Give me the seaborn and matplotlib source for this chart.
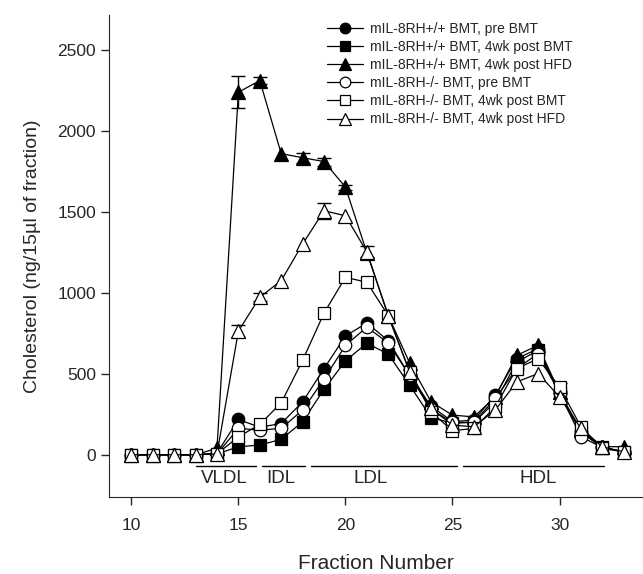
#!/usr/bin/env python3
"""Cholesterol profile of lipoprotein fractions (FPLC) - recreated with seaborn"""

import numpy as np
import pandas as pd
import matplotlib
matplotlib.use('Agg')
import matplotlib.pyplot as plt
import seaborn as sns

# Data
fractions = list(range(10, 34))

pos_pre = [0, 0, 0, 0, 10, 218, 170, 193, 327, 533, 734, 815, 705, 490,
           300, 205, 214, 368, 594, 656, 380, 140, 45, 18]
pos_4wk_bmt = [0, 0, 0, 0, 5, 49, 60, 95, 204, 405, 580, 690, 622, 430,
               230, 195, 200, 327, 573, 645, 380, 140, 45, 18]
pos_4wk_hfd = [0, 0, 0, 0, 40, 2242, 2314, 1862, 1837, 1813, 1655, 1250, 860, 567,
               327, 245, 234, 358, 615, 676, 385, 150, 50, 49]
ko_pre = [0, 0, 0, 0, 5, 163, 152, 163, 276, 467, 676, 789, 691, 490,
          280, 200, 200, 348, 533, 625, 380, 111, 45, 18]
ko_4wk_bmt = [0, 0, 0, 0, 5, 111, 187, 321, 584, 876, 1097, 1067, 860, 512,
              265, 148, 163, 296, 533, 594, 419, 173, 39, 18]
ko_4wk_hfd = [0, 0, 0, 0, 5, 765, 974, 1077, 1303, 1509, 1478, 1255, 861, 512,
              286, 183, 173, 276, 450, 502, 358, 163, 49, 18]

# error bars (only where visible in the figure)
err_pos_hfd = {15: 100, 16: 20, 18: 30, 19: 25, 20: 15}
err_ko_hfd = {15: 35, 16: 25, 19: 50, 21: 35}
err_ko_bmt = {30: 25}

labels = [
    'mIL-8RH+/+ BMT, pre BMT',
    'mIL-8RH+/+ BMT, 4wk post BMT',
    'mIL-8RH+/+ BMT, 4wk post HFD',
    'mIL-8RH-/- BMT, pre BMT',
    'mIL-8RH-/- BMT, 4wk post BMT',
    'mIL-8RH-/- BMT, 4wk post HFD',
]

regions = ['VLDL', 'IDL', 'LDL', 'HDL']
region_start = [13.0, 16.1, 18.4, 25.5]
region_end = [15.8, 18.1, 25.2, 32.1]
region_center = [14.35, 17.0, 21.2, 29.0]

sns.set_style('ticks')
plt.rcParams['font.family'] = ['Liberation Sans', 'DejaVu Sans']

fig = plt.figure(figsize=(6.43, 5.74), dpi=100)
ax = fig.add_axes([0.17, 0.134, 0.83, 0.84])

series = [pos_pre, pos_4wk_bmt, pos_4wk_hfd, ko_pre, ko_4wk_bmt, ko_4wk_hfd]
markers = ['o', 's', '^', 'o', 's', '^']
fills = ['black', 'black', 'black', 'white', 'white', 'white']
sizes = [9, 8.5, 9.5, 9, 8.5, 9.5]

for vals, mk, fc, ms, lab in zip(series, markers, fills, sizes, labels):
    df = pd.DataFrame({'fraction': fractions, 'chol': vals})
    sns.lineplot(data=df, x='fraction', y='chol', ax=ax, color='black',
                 linewidth=0.9, marker=mk, markersize=ms, markerfacecolor=fc,
                 markeredgecolor='black', markeredgewidth=0.9, label=lab)

# error bars
for errs, vals in [(err_pos_hfd, pos_4wk_hfd), (err_ko_hfd, ko_4wk_hfd),
                   (err_ko_bmt, ko_4wk_bmt)]:
    xs = list(errs.keys())
    ys = [vals[fractions.index(x)] for x in xs]
    ax.errorbar(xs, ys, yerr=list(errs.values()), fmt='none', ecolor='black',
                elinewidth=1.0, capsize=5, capthick=1.0, zorder=1)

# lipoprotein class bars
for name, x0, x1, xc in zip(regions, region_start, region_end, region_center):
    ax.plot([x0, x1], [-70, -70], color='black', linewidth=1.0)
    ax.text(xc, -148, name, ha='center', va='center', fontsize=13.5)

ax.set_xlim(8.97, 33.9)
ax.set_ylim(-262, 2720)
ax.set_xticks([10, 15, 20, 25, 30])
ax.set_yticks([0, 500, 1000, 1500, 2000, 2500])
ax.tick_params(axis='both', labelsize=12.5, direction='out', length=6, width=1)
ax.tick_params(axis='x', pad=9)
ax.set_xlabel('Fraction Number', fontsize=15, labelpad=15)
ax.set_ylabel('Cholesterol (ng/15\u00b5l of fraction)', fontsize=14, labelpad=12)
sns.despine(ax=ax)

leg = ax.legend(loc='upper left', bbox_to_anchor=(0.385, 1.012), frameon=False,
                fontsize=10, handlelength=2.6, labelspacing=0.3, markerscale=0.85,
                handletextpad=0.5)

fig.savefig('out.png', dpi=100)
